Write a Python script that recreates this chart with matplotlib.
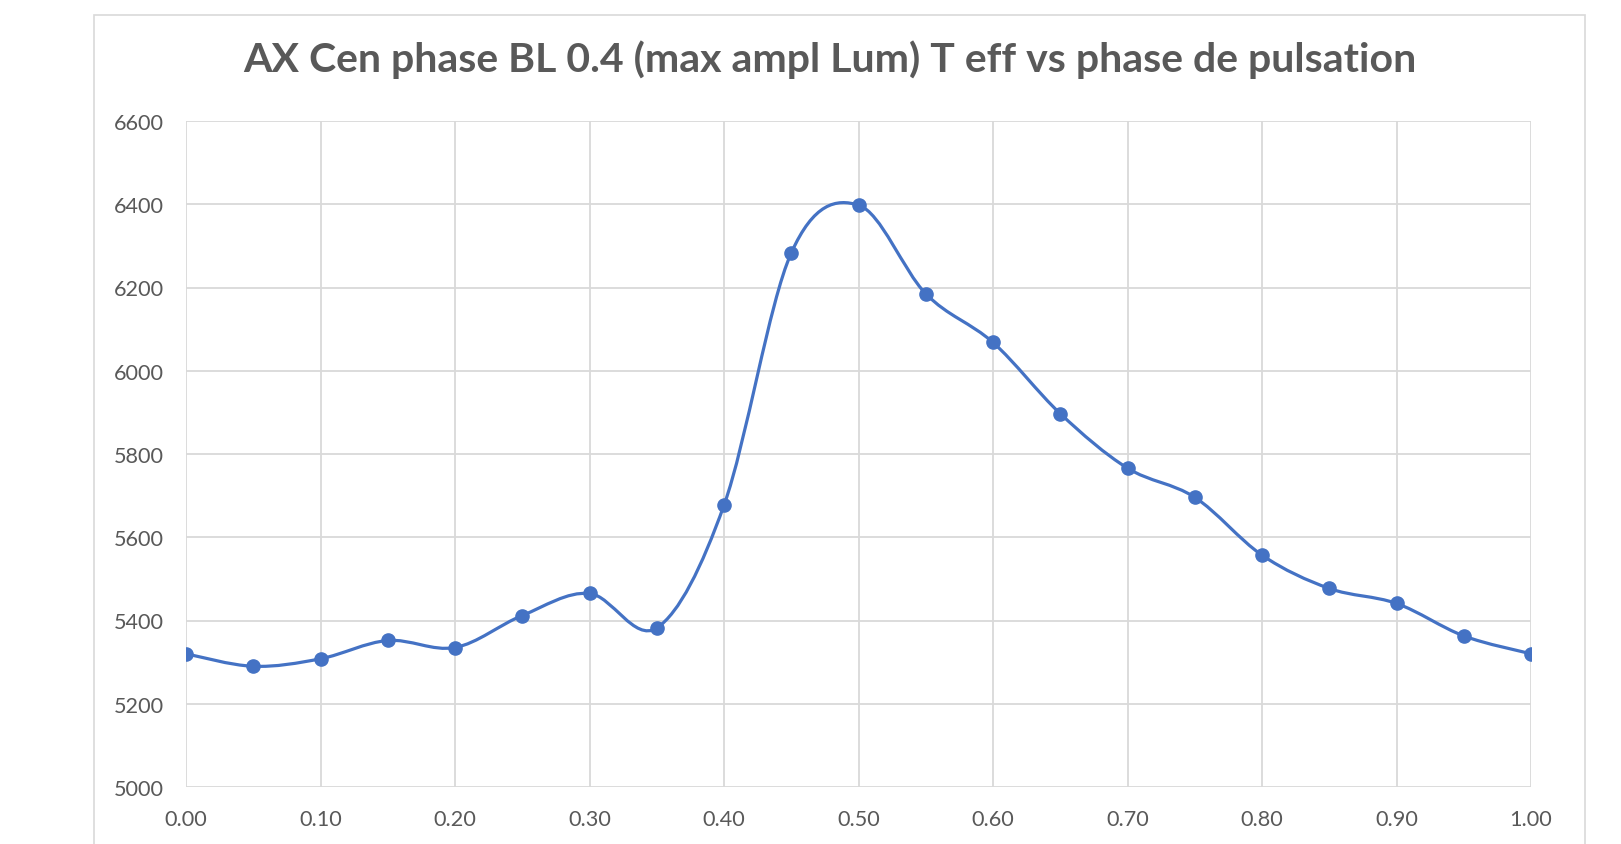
import numpy as np
import matplotlib.pyplot as plt
from matplotlib.path import Path
from matplotlib.patches import PathPatch, Rectangle

# phase de pulsation vs T eff (K)
phase = [0.00, 0.05, 0.10, 0.15, 0.20, 0.25, 0.30, 0.35, 0.40, 0.45, 0.50,
         0.55, 0.60, 0.65, 0.70, 0.75, 0.80, 0.85, 0.90, 0.95, 1.00]
teff = [5320, 5290, 5308, 5352, 5335, 5412, 5465, 5382, 5677, 6283, 6398,
        6185, 6068, 5897, 5766, 5696, 5557, 5477, 5441, 5363, 5320]
xticks = [0.0, 0.1, 0.2, 0.3, 0.4, 0.5, 0.6, 0.7, 0.8, 0.9, 1.0]
yticks = [5000, 5200, 5400, 5600, 5800, 6000, 6200, 6400, 6600]

title = "AX Cen phase BL 0.4 (max ampl Lum) T eff vs phase de pulsation"
blue = "#4472C4"
grey = "#D9D9D9"
txt = "#595959"


def smooth_path(xs, ys):
    # excel-like smoothed line: cubic bezier through the points
    p = np.column_stack([xs, ys]).astype(float)
    n = len(p)
    verts = [p[0]]
    codes = [Path.MOVETO]
    for i in range(n - 1):
        p0 = p[i - 1] if i > 0 else p[i]
        p1 = p[i]
        p2 = p[i + 1]
        p3 = p[i + 2] if i + 2 < n else p[i + 1]
        c1 = p1 + (p2 - p0) / 6.0
        c2 = p2 - (p3 - p1) / 6.0
        verts += [c1, c2, p2]
        codes += [Path.CURVE4] * 3
    return Path(verts, codes)


fig = plt.figure(figsize=(16.21, 8.45), dpi=100)
fig.patches.append(Rectangle((94 / 1621, -0.05), (1585 - 94) / 1621, 1.05 - 15.5 / 845,
                             transform=fig.transFigure, fill=False,
                             edgecolor=grey, linewidth=1.2))

ax = fig.add_axes([186 / 1621, 57 / 845, (1531 - 186) / 1621, (723 - 57) / 845])
ax.set_xlim(0, 1)
ax.set_ylim(5000, 6600)
ax.set_xticks(xticks)
ax.set_yticks(yticks)
ax.set_xticklabels([f"{v:.2f}" for v in xticks])
ax.grid(True, color=grey, linewidth=1.3)
ax.set_axisbelow(True)
for s in ax.spines.values():
    s.set_visible(False)
ax.tick_params(length=0, labelcolor=txt, labelsize=15.6)
ax.tick_params(axis='y', pad=16)
ax.tick_params(axis='x', pad=16)
for lab in ax.get_xticklabels() + ax.get_yticklabels():
    lab.set_family("Lato")

ax.add_patch(PathPatch(smooth_path(phase, teff), facecolor='none', edgecolor=blue,
                       linewidth=2.3, zorder=3))
ax.plot(phase, teff, linestyle='none', marker='o', markersize=9.5,
        color=blue, zorder=4)

fig.text(830 / 1621, 1 - 60 / 845, title, ha='center', va='center',
         fontsize=29.5, fontweight='bold', color=txt, family="Lato")

fig.savefig("out.png", dpi=100)
